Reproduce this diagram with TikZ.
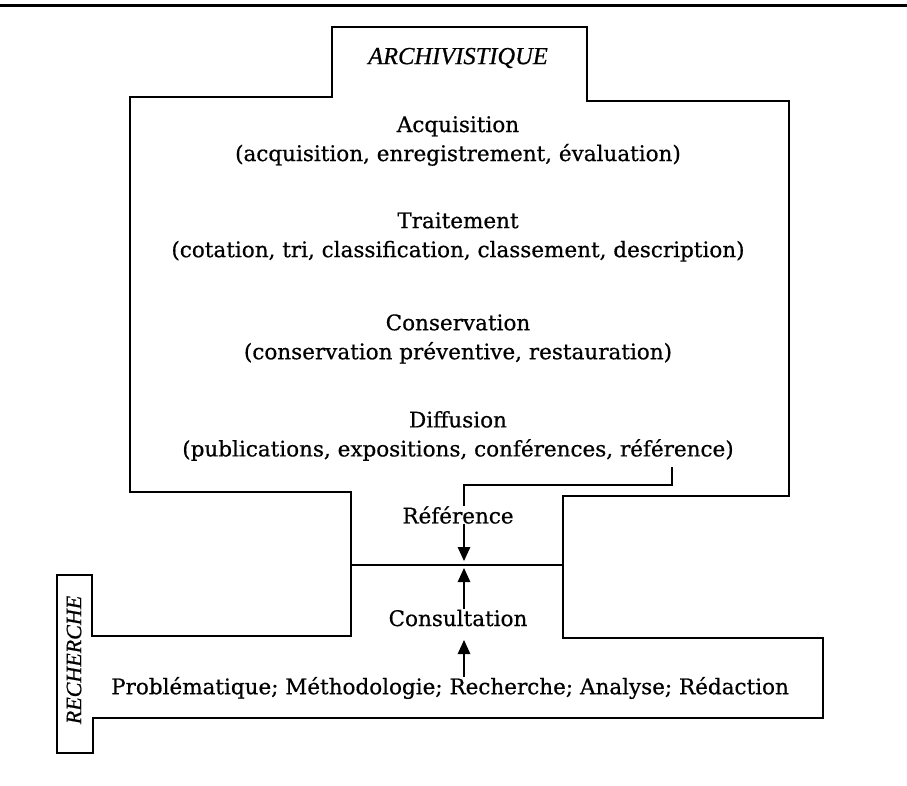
\documentclass[tikz,border=0pt]{standalone}
\usepackage{fontspec}
\setmainfont{DejaVu Serif}[FakeBold=0.6]
\newfontfamily\titlefont{Liberation Serif}[FakeBold=0.6]
\usetikzlibrary{arrows.meta}
\tikzset{
    frame/.style={line width=1.1pt},
    label/.style={font=\fontsize{21.5}{29}\selectfont, align=center, inner sep=0pt},
    title/.style={font=\titlefont\itshape\fontsize{24.5}{29}\selectfont, inner sep=0pt},
    arr/.style={line width=1.2pt, -{Triangle[width=12.5pt,length=14pt]}}
}
\begin{document}
\begin{tikzpicture}[x=1pt,y=-1pt]
    \useasboundingbox (0,0) rectangle (907,786);
    %% rule
    \draw[line width=3pt] (0,6) -- (907,6);
    %% archivistique
    \draw[frame] (332,27) -- (587,27) -- (587,101) -- (789,101) -- (789,496) -- (563,496) -- (563,565)
        -- (351,565) -- (351,492) -- (130,492) -- (130,97) -- (332,97) -- cycle;
    %% recherche
    \draw[frame] (351,565) -- (351,636) -- (92,636) -- (92,575) -- (57,575) -- (57,753) -- (93,753)
        -- (93,718) -- (823,718) -- (823,638) -- (563,638) -- (563,565);
    %% labels
    \node[title] (archi) at (458,58) {ARCHIVISTIQUE};
    \node[title,font=\titlefont\itshape\fontsize{22}{26}\selectfont,rotate=90] (rech) at (74,660) {RECHERCHE};
    \node[label] (acq) at (458,141) {Acquisition\\(acquisition, enregistrement, évaluation)};
    \node[label] (trait) at (458,237) {Traitement\\(cotation, tri, classification, classement, description)};
    \node[label] (cons) at (458,339) {Conservation\\(conservation préventive, restauration)};
    \node[label] (diff) at (458,436) {Diffusion\\(publications, expositions, conférences, référence)};
    \node[label] (ref) at (458,515) {Référence};
    \node[label] (consult) at (458,618) {Consultation};
    \node[label] (prob) at (450,688) {Problématique; Méthodologie; Recherche; Analyse; Rédaction};
    %% connectors
    \coordinate (diffref) at (672,467);
    \coordinate (reftip) at (464,561);
    \coordinate (contip) at (464,568);
    \coordinate (probtip) at (464,640);
    \draw[frame] (diffref) -- ++(0,18) -| (reftip |- ref.north);
    \draw[arr] (reftip |- ref.south) -- (reftip);
    \draw[arr] (contip |- consult.north) -- (contip);
    \draw[arr] (probtip |- prob.north) -- (probtip);
\end{tikzpicture}
\end{document}
